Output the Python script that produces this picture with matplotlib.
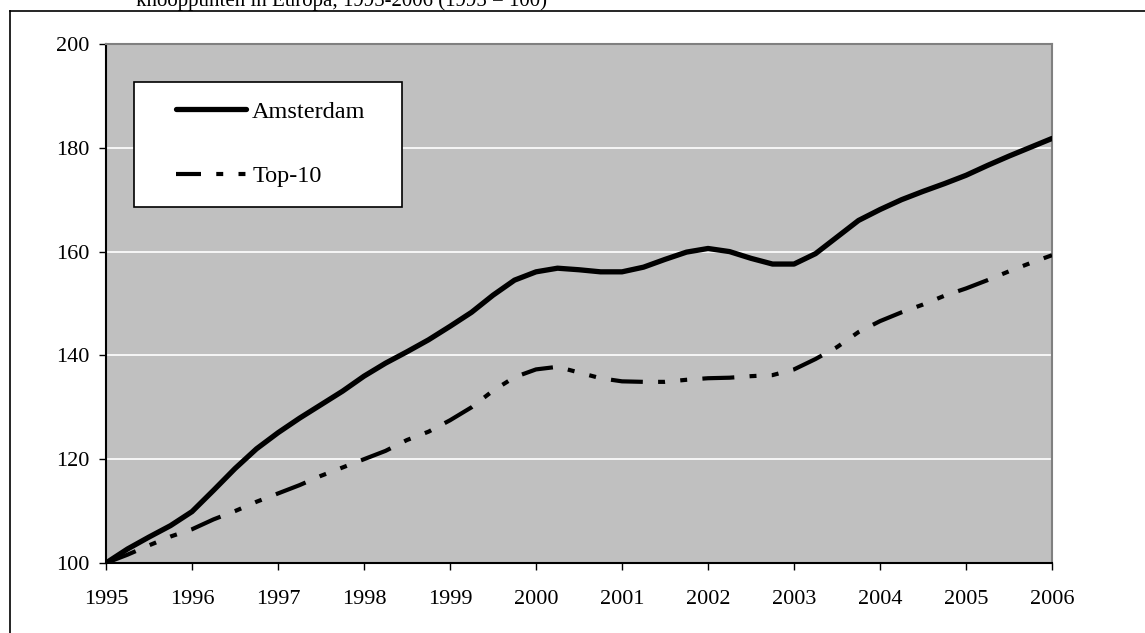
import numpy as np
import matplotlib
matplotlib.use("Agg")
import matplotlib.pyplot as plt
from matplotlib.lines import Line2D
from matplotlib.patches import Rectangle

plt.rcParams['font.family'] = ['Liberation Serif', 'DejaVu Serif']
plt.rcParams['lines.scale_dashes'] = False

# quarterly index values (1995 = 100)
quarters = np.linspace(1995, 2006, 45)
amsterdam = [100.0, 102.7, 105.0, 107.2, 109.9, 114.0, 118.2, 122.0,
             125.1, 127.9, 130.5, 133.1, 136.0, 138.5, 140.7, 143.0,
             145.6, 148.3, 151.6, 154.5, 156.1, 156.8, 156.5, 156.1,
             156.1, 157.0, 158.5, 159.9, 160.6, 160.0, 158.7, 157.6,
             157.6, 159.6, 162.8, 166.0, 168.1, 170.0, 171.6, 173.1,
             174.7, 176.6, 178.4, 180.1, 181.8]
top10 = [100.0, 101.6, 103.4, 105.1, 106.5, 108.4, 110.0, 111.8,
         113.4, 115.0, 116.8, 118.4, 120.0, 121.6, 123.7, 125.3,
         127.5, 130.0, 133.2, 135.8, 137.3, 137.8, 136.7, 135.6,
         135.0, 134.9, 134.9, 135.3, 135.6, 135.7, 136.0, 136.2,
         137.3, 139.3, 141.6, 144.5, 146.6, 148.3, 149.8, 151.5,
         152.9, 154.5, 156.2, 157.8, 159.3]
years = list(range(1995, 2007))
yticks = [100, 120, 140, 160, 180, 200]
title = "knooppunten in Europa, 1995-2006 (1995 = 100)"

dash_pattern = (23, 11, 5, 11, 5, 11)

fig = plt.figure(figsize=(11.45, 6.33), dpi=100)
ax = fig.add_axes([0.0926, 0.1106, 0.8262, 0.8199])
ax.set_facecolor('#C0C0C0')

for v in yticks[1:-1]:
    ax.axhline(v, color='white', lw=1.2, zorder=1)

ax.plot(quarters, amsterdam, color='black', lw=3.8, solid_capstyle='round',
        solid_joinstyle='round', label='Amsterdam', zorder=3)
ax.plot(quarters, top10, color='black', lw=3.0,
        linestyle=(0, dash_pattern), dash_capstyle='butt',
        label='Top-10', zorder=3)

ax.set_xlim(1995, 2006)
ax.set_ylim(100, 200)
ax.set_xticks(years)
ax.set_yticks(yticks)
ax.tick_params(axis='both', direction='out', length=5, width=1, color='black',
               labelsize=16)
ax.tick_params(axis='x', pad=14.5)
ax.tick_params(axis='y', pad=7)

ax.spines['left'].set_color('black')
ax.spines['bottom'].set_color('black')
ax.spines['top'].set_color('#808080')
ax.spines['right'].set_color('#808080')
for s in ax.spines.values():
    s.set_linewidth(1.5)

# legend box
ax.add_patch(Rectangle((0.0296, 0.686), 0.2833, 0.2408, transform=ax.transAxes,
                       facecolor='white', edgecolor='black', lw=1.2, zorder=4))
leg = ax.legend(loc='center left', bbox_to_anchor=(0.074, 0.807), frameon=False,
                fontsize=17.5, handlelength=2.88, handletextpad=0.25,
                borderpad=0, borderaxespad=0, labelspacing=1.75)
leg.set_zorder(5)
leg.get_lines()[1].set_linestyle((5, dash_pattern))

# outer frame of the figure (clipped by the image edge)
fig.add_artist(Line2D([10 / 1145, 10 / 1145], [0, 1 - 11 / 633],
                      transform=fig.transFigure, color='black', lw=1.2))
fig.add_artist(Line2D([10 / 1145, 1], [1 - 11 / 633, 1 - 11 / 633],
                      transform=fig.transFigure, color='black', lw=1.2))

fig.text(136 / 1145, 1 - 6 / 633, title, fontsize=15, va='baseline', ha='left')

plt.savefig("out.png", dpi=100)
